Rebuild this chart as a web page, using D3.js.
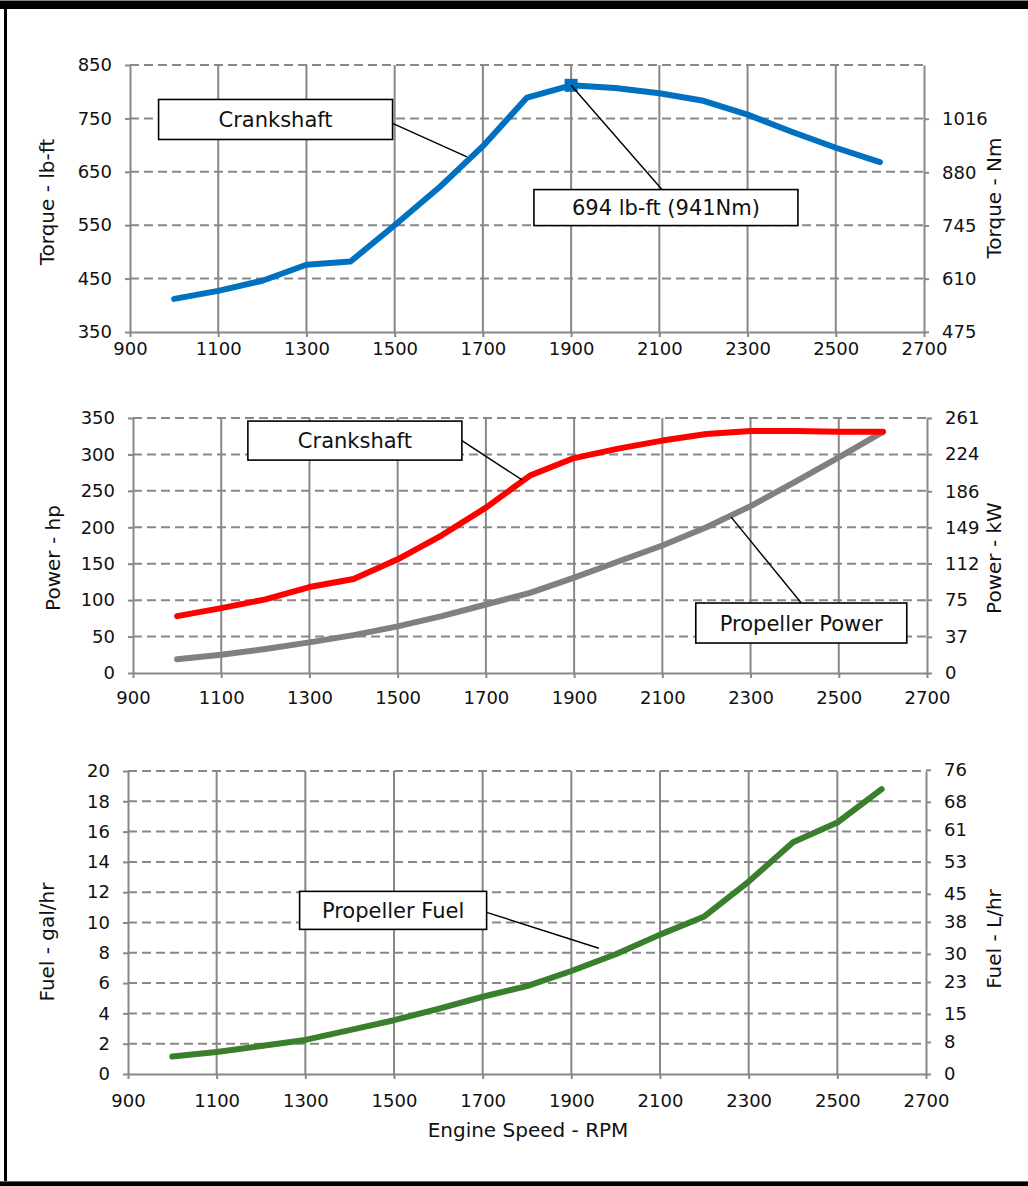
<!DOCTYPE html>
<html>
<head>
<meta charset="utf-8">
<script src="https://cdn.jsdelivr.net/npm/d3@7"></script>
<style>
  body { margin: 0; background: #fff; }
  svg { display: block; font-family: "DejaVu Sans", sans-serif; }
</style>
</head>
<body>
<svg id="chart"></svg>
<script>
var W = 1028, H = 1186;

// engine speed, rpm
var rpm = [1000, 1100, 1200, 1300, 1400, 1500, 1600, 1700, 1800, 1900, 2000, 2100, 2200, 2300, 2400, 2500, 2600];
var rpmTicks = [900, 1100, 1300, 1500, 1700, 1900, 2100, 2300, 2500, 2700];

// torque
var torqueLbft = [412, 427, 446, 476, 482, 550, 620, 698, 789, 812, 807, 797, 783, 757, 725, 695, 668];
var torqueTicks = [350, 450, 550, 650, 750, 850];
var torqueNmTicks = [475, 610, 745, 880, 1016];
var peakRpm = 1900;

// power
var crankHp = [78, 89, 101, 118, 129, 156, 189, 227, 271, 295, 308, 319, 328, 332, 332, 331, 331];
var propHp = [19, 25, 33, 42, 52, 64, 78, 94, 110, 131, 153, 175, 200, 229, 262, 296, 331];
var powerTicks = [0, 50, 100, 150, 200, 250, 300, 350];
var powerKwTicks = [0, 37, 75, 112, 149, 186, 224, 261];

// fuel
var fuelGal = [1.15, 1.45, 1.85, 2.25, 2.9, 3.55, 4.3, 5.1, 5.8, 6.8, 7.9, 9.2, 10.4, 12.7, 15.3, 16.6, 18.8];
var fuelTicks = [0, 2, 4, 6, 8, 10, 12, 14, 16, 18, 20];
var fuelLTicks = [0, 8, 15, 23, 30, 38, 45, 53, 61, 68, 76];

var gridColor = '#888888';

var svg = d3.select('#chart')
	.attr('width', W)
	.attr('height', H);

// page frame
svg.append('rect').attr('x', 0).attr('y', 0).attr('width', W).attr('height', 1).attr('fill', '#888');
svg.append('rect').attr('x', 0).attr('y', 1).attr('width', W).attr('height', 8).attr('fill', '#000');
svg.append('rect').attr('x', 4).attr('y', 1).attr('width', 3).attr('height', H).attr('fill', '#000');
svg.append('rect').attr('x', 0).attr('y', 1181).attr('width', W).attr('height', 1).attr('fill', '#666');
svg.append('rect').attr('x', 0).attr('y', 1182).attr('width', W).attr('height', 4).attr('fill', '#000');

var panels = [
	{
		left: 130, right: 924, top: 65, bottom: 332,
		domain: [350, 850], ticks: torqueTicks,
		rightTicks: torqueNmTicks, factor: 1.3558,
		labelOffset: 16,
		leftTitle: 'Torque - lb-ft', leftTitleX: 47, leftTitleY: 202,
		rightTitle: 'Torque - Nm', rightTitleX: 994, rightTitleY: 198,
		series: [{ values: torqueLbft, color: '#0070C0' }],
		marker: { rpm: peakRpm, values: torqueLbft, color: '#0070C0' },
		notes: [
			{ text: 'Crankshaft', cx: 1230, cy: 748, w: 234, h: 40, sx: 117, sy: 4, ex: 1664, ey: 678 },
			{ text: '694 lb-ft (941Nm)', cx: 2115, cy: 583, w: 264, h: 36, sx: -4, sy: -18, ex: peakRpm, ey: torqueLbft[rpm.indexOf(peakRpm)] }
		]
	},
	{
		left: 133, right: 927, top: 418, bottom: 673,
		domain: [0, 350], ticks: powerTicks,
		rightTicks: powerKwTicks, factor: 0.7457,
		labelOffset: 24,
		leftTitle: 'Power - hp', leftTitleX: 53, leftTitleY: 558,
		rightTitle: 'Power - kW', rightTitleX: 994, rightTitleY: 558,
		series: [
			{ values: propHp, color: '#808080' },
			{ values: crankHp, color: '#FF0000' }
		],
		notes: [
			{ text: 'Crankshaft', cx: 1403, cy: 319, w: 214, h: 39, sx: 107, sy: 0, ex: 1782, ey: 265 },
			{ text: 'Propeller Power', cx: 2415, cy: 68.6, w: 211, h: 40, sx: 0, sy: -20, ex: 2256, ey: 214 }
		]
	},
	{
		left: 128, right: 926, top: 771, bottom: 1074,
		domain: [0, 20], ticks: fuelTicks,
		rightTicks: fuelLTicks, factor: 3.785,
		labelOffset: 26,
		leftTitle: 'Fuel - gal/hr', leftTitleX: 47, leftTitleY: 942,
		rightTitle: 'Fuel - L/hr', rightTitleX: 994, rightTitleY: 939,
		xTitle: 'Engine Speed - RPM', xTitleX: 528, xTitleY: 1137,
		series: [{ values: fuelGal, color: '#3A7F2E' }],
		notes: [
			{ text: 'Propeller Fuel', cx: 1498, cy: 10.8, w: 187, h: 38, sx: 93.5, sy: 2, ex: 1962, ey: 8.3 }
		]
	}
];

panels.forEach(drawPanel);

function drawPanel(p) {
	var x = d3.scaleLinear().domain([900, 2700]).range([p.left, p.right]);
	var y = d3.scaleLinear().domain(p.domain).range([p.bottom, p.top]);
	var y2 = d3.scaleLinear()
		.domain([p.domain[0] * p.factor, p.domain[1] * p.factor])
		.range([p.bottom, p.top]);

	var g = svg.append('g');

	// horizontal dashed grid
	g.selectAll('.hgrid')
		.data(p.ticks.slice(1))
	  .enter().append('line')
		.attr('x1', p.left).attr('x2', p.right)
		.attr('y1', function(d) { return y(d) })
		.attr('y2', function(d) { return y(d) })
		.attr('stroke', gridColor)
		.attr('stroke-width', 2)
		.attr('stroke-dasharray', '9,5');

	// vertical solid grid
	g.selectAll('.vgrid')
		.data(rpmTicks.slice(1, -1))
	  .enter().append('line')
		.attr('x1', function(d) { return x(d) })
		.attr('x2', function(d) { return x(d) })
		.attr('y1', p.top).attr('y2', p.bottom)
		.attr('stroke', gridColor)
		.attr('stroke-width', 2);

	var xAxis = g.append('g')
		.attr('transform', 'translate(0,' + p.bottom + ')')
		.call(d3.axisBottom(x).tickValues(rpmTicks).tickFormat(d3.format('d'))
			.tickSize(5).tickSizeOuter(0).tickPadding(p.labelOffset - 11));

	var yAxis = g.append('g')
		.attr('transform', 'translate(' + p.left + ',0)')
		.call(d3.axisLeft(y).tickValues(p.ticks).tickFormat(d3.format('d'))
			.tickSize(5).tickSizeOuter(0).tickPadding(13));

	var yAxis2 = g.append('g')
		.attr('transform', 'translate(' + p.right + ',0)')
		.call(d3.axisRight(y2).tickValues(p.rightTicks).tickFormat(d3.format('d'))
			.tickSize(5).tickSizeOuter(0).tickPadding(13));

	[xAxis, yAxis, yAxis2].forEach(function(a) {
		a.attr('font-family', null).attr('font-size', null);
		a.select('.domain').attr('stroke', gridColor).attr('stroke-width', 2);
		a.selectAll('.tick line').attr('stroke', gridColor).attr('stroke-width', 2);
		a.selectAll('.tick text')
			.attr('fill', '#111')
			.style('font-size', '18px');
	});

	// axis titles
	g.append('text')
		.attr('transform', 'translate(' + p.leftTitleX + ',' + p.leftTitleY + ') rotate(-90)')
		.attr('text-anchor', 'middle')
		.attr('dy', '0.35em')
		.style('font-size', '20px')
		.attr('fill', '#111')
		.text(p.leftTitle);

	g.append('text')
		.attr('transform', 'translate(' + p.rightTitleX + ',' + p.rightTitleY + ') rotate(-90)')
		.attr('text-anchor', 'middle')
		.attr('dy', '0.35em')
		.style('font-size', '20px')
		.attr('fill', '#111')
		.text(p.rightTitle);

	if (p.xTitle) {
		g.append('text')
			.attr('x', p.xTitleX)
			.attr('y', p.xTitleY)
			.attr('text-anchor', 'middle')
			.style('font-size', '20px')
			.attr('fill', '#111')
			.text(p.xTitle);
	}

	// series
	var line = d3.line()
		.x(function(d, i) { return x(rpm[i]) })
		.y(function(d) { return y(d) });

	p.series.forEach(function(s) {
		g.append('path')
			.datum(s.values)
			.attr('d', line)
			.attr('fill', 'none')
			.attr('stroke', s.color)
			.attr('stroke-width', 6)
			.attr('stroke-linejoin', 'round')
			.attr('stroke-linecap', 'round');
	});

	if (p.marker) {
		var mv = p.marker.values[rpm.indexOf(p.marker.rpm)];
		g.append('rect')
			.attr('x', x(p.marker.rpm) - 6.5)
			.attr('y', y(mv) - 6.5)
			.attr('width', 13)
			.attr('height', 13)
			.attr('fill', p.marker.color);
	}

	// callouts
	p.notes.forEach(function(n) {
		var cx = x(n.cx), cy = y(n.cy);
		g.append('line')
			.attr('x1', cx + n.sx).attr('y1', cy + n.sy)
			.attr('x2', x(n.ex)).attr('y2', y(n.ey))
			.attr('stroke', '#000')
			.attr('stroke-width', 1.4);
		g.append('rect')
			.attr('x', cx - n.w / 2)
			.attr('y', cy - n.h / 2)
			.attr('width', n.w)
			.attr('height', n.h)
			.attr('fill', '#fff')
			.attr('stroke', '#000')
			.attr('stroke-width', 1.6);
		g.append('text')
			.attr('x', cx)
			.attr('y', cy)
			.attr('dy', '0.36em')
			.attr('text-anchor', 'middle')
			.style('font-size', '21px')
			.attr('fill', '#111')
			.text(n.text);
	});
}
</script>
</body>
</html>
